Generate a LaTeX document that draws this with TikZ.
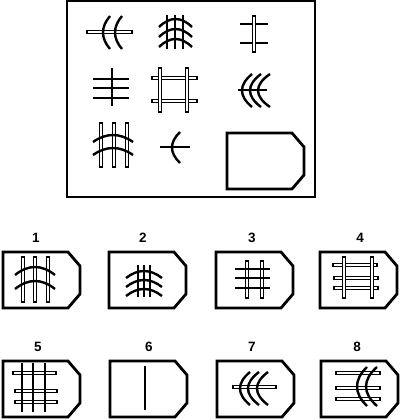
\documentclass[tikz,border=0pt]{standalone}
\usepackage{fontspec}
\setmainfont{Liberation Sans}
\newcommand\xbarH[3]{\draw[barst] (#1,#3-1.5) rectangle (#2,#3+1.5);}
\newcommand\xbarV[3]{\draw[barst] (#1-1.5,#2) rectangle (#1+1.5,#3);}
\newcommand\xline[4]{\draw[linest] (#1,#2) -- (#3,#4);}
% arc convex to the left (parabola): xend, xleft, ytop, ybot
\newcommand\xarcL[4]{\draw[arcst] (#1,#3) .. controls ({#1+4/3*(#2-#1)},{#3+2/3*((#4-#3)/2)}) and ({#1+4/3*(#2-#1)},{#4-2/3*((#4-#3)/2)}) .. (#1,#4);}
% arc convex upward (parabola): x1, x2, yend, yapex
\newcommand\xarcU[4]{\draw[arcst] (#1,#3) .. controls ({#1+2/3*((#2-#1)/2)},{#3+4/3*(#4-#3)}) and ({#2-2/3*((#2-#1)/2)},{#3+4/3*(#4-#3)}) .. (#2,#3);}
\newcommand\xcard[2]{\draw[cardst] (#1,#2) -- ++(65,0) -- ++(12,14) -- ++(0,28) -- ++(-12,14) -- ++(-65,0) -- cycle;}
\begin{document}
\begin{tikzpicture}[x=1pt,y=-1pt,
  barst/.style={draw=black,fill=white,line width=1.2pt},
  linest/.style={line width=1.8pt},
  arcst/.style={line width=2.4pt},
  cardst/.style={line width=2.8pt,line join=miter},
  lab/.style={font=\fontsize{13.5}{15}\selectfont\bfseries,inner sep=0pt}]
\useasboundingbox (0,0) rectangle (400,420);
% outer box
\draw[line width=2pt] (67,1) rectangle (315,197);
% cell 1,1
\xbarH{87}{132}{32}
\xarcL{110}{103}{16}{49}
\xarcL{122}{115}{16}{49}
% cell 1,2
\xline{167}{15}{167}{49}
\xline{175}{15}{175}{49}
\xline{183}{15}{183}{49}
\xarcU{159}{192}{27}{19}
\xarcU{159}{192}{37}{29}
\xarcU{159}{192}{47}{39}
% cell 1,3
\xline{240}{24}{268}{24}
\xline{240}{43}{268}{43}
\xbarV{254}{16}{52}
% cell 2,1
\xline{93}{79}{129}{79}
\xline{93}{88}{129}{88}
\xline{93}{98}{129}{98}
\xline{112}{68}{112}{106}
% cell 2,2
\xbarH{152}{197}{78}
\xbarH{152}{197}{101}
\xbarV{160}{68}{112}
\xbarV{187}{68}{112}
% cell 2,3
\xline{238}{90}{267}{90}
\xarcL{252}{242}{74}{107}
\xarcL{261}{250}{74}{107}
\xarcL{270}{258}{74}{107}
% cell 3,1
\xbarV{101}{123}{167}
\xbarV{114}{123}{167}
\xbarV{127}{123}{167}
\xarcU{93}{133}{142}{135}
\xarcU{93}{133}{155}{148}
% cell 3,2
\xline{160}{147}{190}{147}
\xarcL{180}{172}{132}{163}
% cell 3,3
\xcard{227}{133}
% labels
\node[lab] (l1) at (36,238) {1};
\node[lab] (l2) at (143,238) {2};
\node[lab] (l3) at (252,238) {3};
\node[lab] (l4) at (360,238) {4};
\node[lab] (l5) at (38,347) {5};
\node[lab] (l6) at (149,347) {6};
\node[lab] (l7) at (252,347) {7};
\node[lab] (l8) at (357,347) {8};
% answer 1
\xcard{3}{252}
\xbarV{23}{257}{302}
\xbarV{35}{257}{302}
\xbarV{48}{257}{302}
\xarcU{15}{55}{275}{267}
\xarcU{15}{55}{289}{281}
% answer 2
\xcard{109}{252}
\xline{138}{265}{138}{297}
\xline{144}{265}{144}{297}
\xline{150}{265}{150}{297}
\xarcU{126}{162}{278}{271}
\xarcU{126}{162}{287}{280}
\xarcU{126}{162}{296}{289}
% answer 3
\xcard{216}{252}
\xbarV{247}{261}{298}
\xbarV{262}{261}{298}
\xline{235}{269}{270}{269}
\xline{235}{278}{270}{278}
\xline{235}{288}{270}{288}
% answer 4
\xcard{320}{252}
\xbarH{333}{377}{265}
\xbarH{334}{378}{278}
\xbarH{334}{378}{288}
\xbarV{344}{257}{298}
\xbarV{372}{257}{298}
% answer 5
\xcard{3}{361}
\xbarH{13}{56}{373}
\xbarH{15}{57}{391}
\xbarH{15}{57}{402}
\xline{22}{363}{22}{412}
\xline{33}{363}{33}{412}
\xline{45}{363}{45}{412}
% answer 6
\xcard{110}{361}
\xline{145}{366}{145}{410}
% answer 7
\xcard{217}{361}
\xbarH{233}{276}{387}
\xarcL{250}{240}{372}{405}
\xarcL{259}{248}{372}{405}
\xarcL{268}{257}{372}{405}
% answer 8
\xcard{321}{361}
\xbarH{336}{380}{373}
\xbarH{336}{380}{388}
\xbarH{336}{380}{399}
\xarcL{367}{357}{367}{406}
\xarcL{377}{366}{367}{406}
\end{tikzpicture}
\end{document}
